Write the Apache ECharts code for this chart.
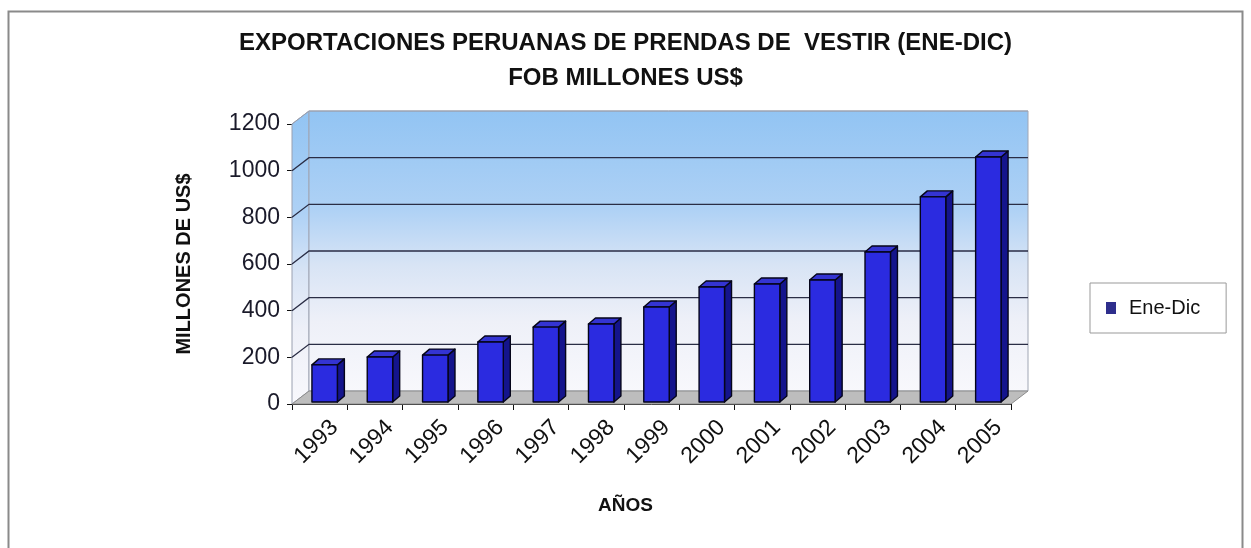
<!DOCTYPE html>
<html>
<head>
<meta charset="utf-8">
<script src="https://cdn.jsdelivr.net/npm/echarts@6/dist/echarts.min.js"></script>
<style>html,body{margin:0;padding:0;background:#fff;}#c{width:1251px;height:548px;}</style>
</head>
<body>
<div id="c"></div>
<script>
const years = ['1993','1994','1995','1996','1997','1998','1999','2000','2001','2002','2003','2004','2005'];
const exportsFob = [159, 193, 201, 257, 321, 334, 407, 493, 506, 523, 643, 879, 1050];
const yTicks = [0, 200, 400, 600, 800, 1000, 1200];
const seriesName = 'Ene-Dic';
const titleLines = ['EXPORTACIONES PERUANAS DE PRENDAS DE  VESTIR (ENE-DIC)', 'FOB MILLONES US$'];

const WALL_DX = 17, WALL_DY = -13;
const BAR_DX = 7, BAR_DY = -6;
const SHIFT_X = 5, SHIFT_Y = -2;

const wallGrad = () => new echarts.graphic.LinearGradient(0, 0, 0, 1, [
  {offset: 0, color: '#92c4f3'},
  {offset: 0.35, color: '#aed1f5'},
  {offset: 0.55, color: '#d8e4f5'},
  {offset: 0.75, color: '#eef0f8'},
  {offset: 1, color: '#f8f8fc'}
]);

const chart = echarts.init(document.getElementById('c'), null, {renderer: 'canvas'});
chart.setOption({
  backgroundColor: '#fff',
  animation: false,
  title: {
    text: titleLines.join('\n'),
    left: 'center',
    top: 21,
    textStyle: {fontFamily: 'Liberation Sans', fontWeight: 'bold', fontSize: 24, lineHeight: 35, color: '#111'}
  },
  legend: {
    data: [seriesName],
    left: 1090, top: 283,
    orient: 'vertical',
    padding: [15, 26, 15, 16],
    borderColor: '#999', borderWidth: 1,
    itemWidth: 10, itemHeight: 12,
    icon: 'rect',
    textStyle: {fontFamily: 'Liberation Sans', fontSize: 20, color: '#111', padding: [0, 0, 0, 8]}
  },
  graphic: [{
    type: 'rect', silent: true, z: -10,
    shape: {x: 8.5, y: 11.5, width: 1234, height: 600},
    style: {fill: 'none', stroke: '#8a8a8a', lineWidth: 2}
  }],
  grid: {left: 292, right: 240, top: 124, bottom: 144},
  xAxis: {
    type: 'category',
    data: years,
    boundaryGap: true,
    axisLine: {show: true, lineStyle: {color: '#111', width: 1}},
    axisTick: {show: true, length: 6, lineStyle: {color: '#111'}},
    axisLabel: {rotate: 45, margin: 5, interval: 0, showMinLabel: true, showMaxLabel: true, hideOverlap: false,
      fontFamily: 'Liberation Sans', fontSize: 23, lineHeight: 42, verticalAlign: 'top', color: '#111'},
    name: 'AÑOS',
    nameLocation: 'middle',
    nameGap: 92,
    nameTextStyle: {fontFamily: 'Liberation Sans', fontWeight: 'bold', fontSize: 19, color: '#111', padding: [0, 52, 0, 0]}
  },
  yAxis: {
    type: 'value',
    min: 0, max: 1200, interval: 200,
    axisLine: {show: true, lineStyle: {color: '#111', width: 1}},
    axisTick: {show: true, length: 5, lineStyle: {color: '#111'}},
    splitLine: {show: false},
    axisLabel: {margin: 12, fontFamily: 'Liberation Sans', fontSize: 23, color: '#1a1a2a', formatter: function (v) { return String(v); }},
    name: 'MILLONES DE US$',
    nameLocation: 'middle',
    nameGap: 98,
    nameRotate: 90,
    nameTextStyle: {fontFamily: 'Liberation Sans', fontWeight: 'bold', fontSize: 20, color: '#111'}
  },
  series: [
    {
      type: 'custom',
      name: '_walls',
      silent: true,
      z: 1,
      clip: false,
      data: [[0, 0]],
      encode: {x: 0, y: 1},
      renderItem: function (params, api) {
        const n = years.length;
        const p0 = api.coord([0, 0]);
        const bw = api.size([1, 0])[0];
        const xl = p0[0] - bw / 2;
        const xr = xl + bw * n;
        const y0 = api.coord([0, yTicks[0]])[1];
        const yTop = api.coord([0, yTicks[yTicks.length - 1]])[1];
        const children = [];
        children.push({type: 'polygon', shape: {points: [[xl, y0], [xl, yTop], [xl + WALL_DX, yTop + WALL_DY], [xl + WALL_DX, y0 + WALL_DY]]},
          style: {fill: wallGrad(), stroke: '#9aa0b0', lineWidth: 1}});
        children.push({type: 'rect', shape: {x: xl + WALL_DX, y: yTop + WALL_DY, width: xr - xl, height: y0 - yTop},
          style: {fill: wallGrad(), stroke: '#a0a6b4', lineWidth: 1}});
        children.push({type: 'polygon', shape: {points: [[xl, y0], [xr, y0], [xr + WALL_DX, y0 + WALL_DY], [xl + WALL_DX, y0 + WALL_DY]]},
          style: {fill: '#bdbdbd', stroke: '#8c8c8c', lineWidth: 1}});
        yTicks.forEach(function (t, k) {
          if (k === 0) return;
          const y = api.coord([0, t])[1];
          const isTop = k === yTicks.length - 1;
          const col = isTop ? '#9aa0b0' : '#2a2d45';
          children.push({type: 'polyline', shape: {points: [[xl, y], [xl + WALL_DX, y + WALL_DY], [xr + WALL_DX, y + WALL_DY]]},
            style: {fill: 'none', stroke: col, lineWidth: isTop ? 1 : 1.3}});
        });
        return {type: 'group', children: children};
      }
    },
    {
      type: 'custom',
      name: seriesName,
      z: 3,
      clip: false,
      itemStyle: {color: '#2e2e8c'},
      data: exportsFob.map(function (v, i) { return [i, v]; }),
      encode: {x: 0, y: 1},
      renderItem: function (params, api) {
        const i = api.value(0), v = api.value(1);
        const top = api.coord([i, v]);
        const base = api.coord([i, 0]);
        const bw = api.size([1, 0])[0];
        const w = bw * 0.46;
        const x0 = top[0] - w / 2 + SHIFT_X, x1 = x0 + w;
        const yT = top[1] + SHIFT_Y, yB = base[1] + SHIFT_Y;
        const stroke = {stroke: '#05051a', lineWidth: 1.4, lineJoin: 'round'};
        return {type: 'group', children: [
          {type: 'polygon', shape: {points: [[x1, yB], [x1, yT], [x1 + BAR_DX, yT + BAR_DY], [x1 + BAR_DX, yB + BAR_DY]]},
            style: Object.assign({fill: '#14148c'}, stroke)},
          {type: 'polygon', shape: {points: [[x0, yT], [x1, yT], [x1 + BAR_DX, yT + BAR_DY], [x0 + BAR_DX, yT + BAR_DY]]},
            style: Object.assign({fill: '#3434d2'}, stroke)},
          {type: 'rect', shape: {x: x0, y: yT, width: w, height: yB - yT},
            style: Object.assign({fill: '#2b2be0'}, stroke)}
        ]};
      }
    }
  ]
});
</script>
</body>
</html>
